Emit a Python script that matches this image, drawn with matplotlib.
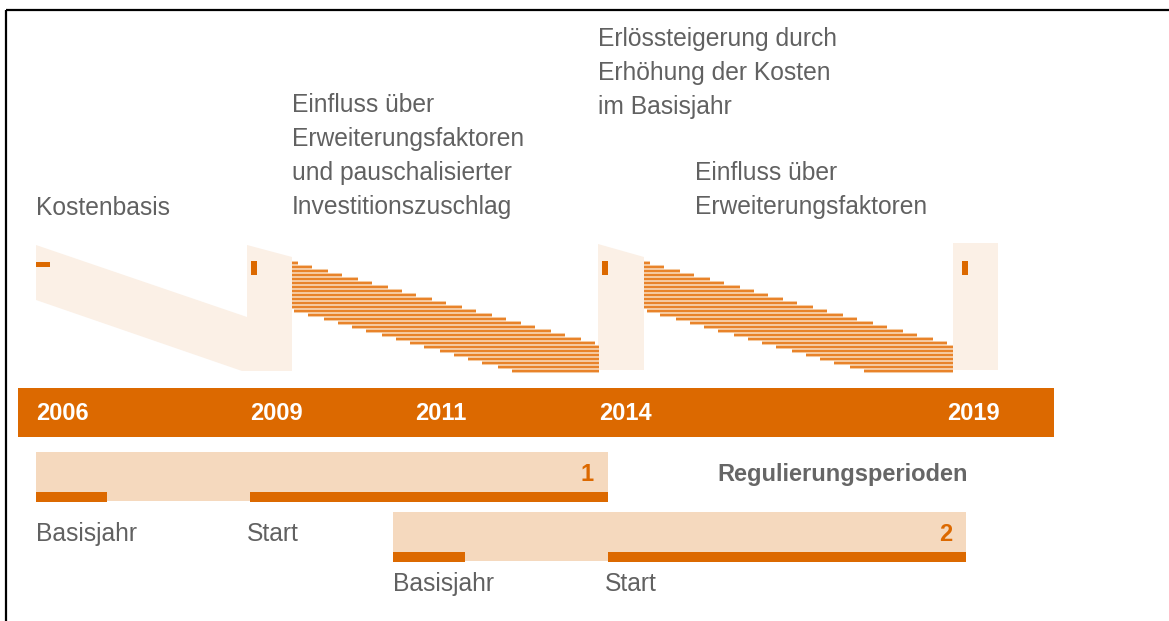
import matplotlib.pyplot as plt
from matplotlib.patches import Polygon, Rectangle

ORANGE = "#DC6900"
STRIPE = "#E8832A"
PALE = "#FBF0E6"
PEACH = "#F5D9BE"
GREY = "#616161"

years = ["2006", "2009", "2011", "2014", "2019"]
year_x = [36, 250, 415, 599, 947]

# staircase rows: start and end of each stripe
p1_left = [292, 292, 292, 292, 292, 292, 292, 292, 292, 292, 292, 292,
           294, 308, 324, 338, 352, 366, 382, 396, 410, 424, 440, 454,
           468, 482, 498, 512]
p1_right = [298, 312, 328, 342, 358, 372, 388, 402, 416, 432, 446, 462,
            476, 492, 506, 521, 535, 551, 565, 581, 595, 599, 599, 599,
            599, 599, 599, 599]
p2_left = [644, 644, 644, 644, 644, 644, 644, 644, 644, 644, 644, 644,
           647, 660, 676, 690, 704, 718, 734, 748, 762, 776, 792, 806,
           820, 834, 850, 864]
p2_right = [650, 664, 680, 694, 710, 724, 740, 754, 768, 783, 797, 813,
            827, 843, 857, 873, 887, 903, 917, 933, 947, 953, 953, 953,
            953, 953, 953, 953]

note_cost = ["Kostenbasis"]
note_p1 = ["Einfluss über", "Erweiterungsfaktoren",
           "und pauschalisierter", "Investitionszuschlag"]
note_up = ["Erlössteigerung durch", "Erhöhung der Kosten", "im Basisjahr"]
note_p2 = ["Einfluss über", "Erweiterungsfaktoren"]

periods = ["1", "2"]
period_span = [(36, 608), (393, 966)]
period_base = [(36, 107), (393, 465)]
period_start = [(250, 608), (608, 966)]
period_labels = [("Basisjahr", "Start"), ("Basisjahr", "Start")]

FONT = "Liberation Sans"
FS = 17.7
FSB = 17

fig = plt.figure(figsize=(11.69, 6.21), dpi=100)
ax = fig.add_axes([0, 0, 1, 1])
ax.set_xlim(0, 1169)
ax.set_ylim(621, 0)
ax.axis("off")

# frame on top and left
ax.plot([5.5, 1169], [10, 10], color="black", lw=1.6, solid_capstyle="butt")
ax.plot([6, 6], [10, 621], color="black", lw=1.6, solid_capstyle="butt")

# pale background shapes
ax.add_patch(Polygon([(36, 245), (247, 317), (247, 245), (292, 257), (292, 371),
                      (242, 371), (36, 300)], closed=True, fc=PALE, ec="none"))
ax.add_patch(Polygon([(598, 244), (644, 257), (644, 370), (598, 370)],
                     closed=True, fc=PALE, ec="none"))
ax.add_patch(Rectangle((953, 243), 45, 127, fc=PALE, ec="none"))

# small markers
ax.add_patch(Rectangle((36, 262), 14, 5, fc=ORANGE, ec="none"))
for mx in [251, 602, 962]:
    ax.add_patch(Rectangle((mx, 261), 6, 14, fc=ORANGE, ec="none"))

# stripes
for left, right in [(p1_left, p1_right), (p2_left, p2_right)]:
    for i, (x0, x1) in enumerate(zip(left, right)):
        y = 262.5 + 4 * i
        ax.plot([x0, x1], [y, y], color="#F7D2AE", lw=2.9, solid_capstyle="butt")
        ax.plot([x0, x1], [y, y], color=STRIPE, lw=1.6, solid_capstyle="butt")

# notes
ax.text(36, 215, note_cost[0], fontsize=FS, family=FONT, color=GREY)
for i, line in enumerate(note_p1):
    ax.text(292, 112 + 34 * i, line, fontsize=FS, family=FONT, color=GREY)
for i, line in enumerate(note_up):
    ax.text(598, 46 + 34 * i, line, fontsize=FS, family=FONT, color=GREY)
for i, line in enumerate(note_p2):
    ax.text(695, 180 + 34 * i, line, fontsize=FS, family=FONT, color=GREY)

# timeline
ax.add_patch(Rectangle((18, 388), 1036, 49, fc=ORANGE, ec="none"))
for label, x in zip(years, year_x):
    ax.text(x, 420, label, fontsize=FSB, family=FONT, weight="bold", color="white")

# regulation periods
label_y = [541, 591]
for k, name in enumerate(periods):
    top = 452 + 60 * k
    x0, x1 = period_span[k]
    ax.add_patch(Rectangle((x0, top), x1 - x0, 49, fc=PEACH, ec="none"))
    for a, b in [period_base[k], period_start[k]]:
        ax.add_patch(Rectangle((a, top + 40), b - a, 10, fc=ORANGE, ec="none"))
    ax.text(x1 - 14, top + 29, name, fontsize=FSB, family=FONT, weight="bold",
            color=ORANGE, ha="right")
    ax.text(period_base[k][0], label_y[k], period_labels[k][0], fontsize=FS,
            family=FONT, color=GREY)
    ax.text(period_start[k][0] - 3, label_y[k], period_labels[k][1], fontsize=FS,
            family=FONT, color=GREY)

ax.text(717, 481, "Regulierungsperioden", fontsize=FSB, family=FONT,
        weight="bold", color="#666666")

fig.savefig("out.png", dpi=100)
